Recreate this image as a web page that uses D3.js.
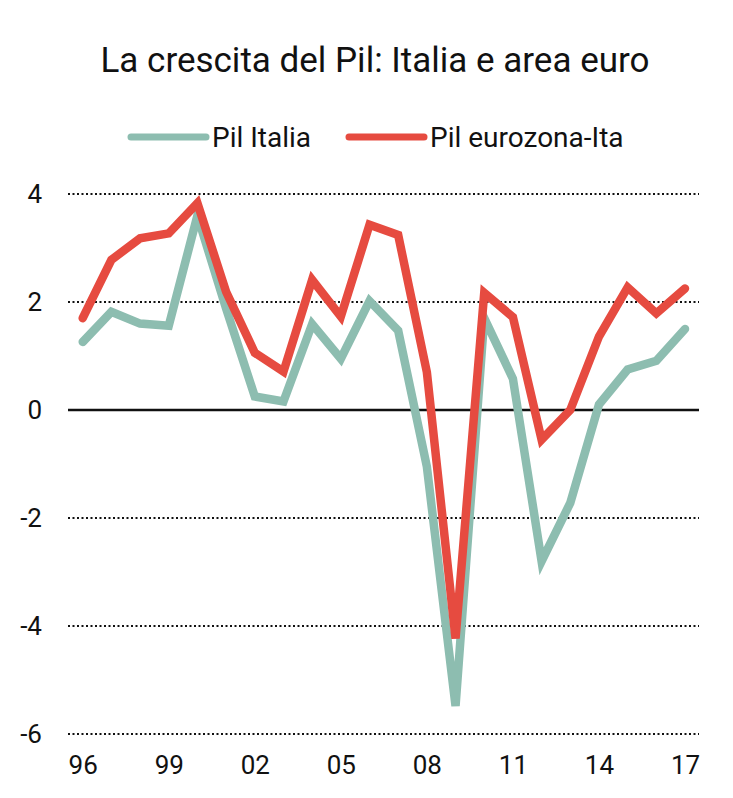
<!DOCTYPE html>
<html>
<head>
<meta charset="utf-8">
<script src="https://cdn.jsdelivr.net/npm/d3@7"></script>
<style>
  body { margin: 0; background: #fff; }
  text { font-family: Roboto, "Open Sans", sans-serif; fill: #111; }
</style>
</head>
<body>
<div class="chart"></div>
<script>
var years = [1996, 1997, 1998, 1999, 2000, 2001, 2002, 2003, 2004, 2005, 2006,
             2007, 2008, 2009, 2010, 2011, 2012, 2013, 2014, 2015, 2016, 2017];

var pilItalia = [1.26, 1.82, 1.60, 1.56, 3.60, 1.88, 0.25, 0.16, 1.59, 0.95, 2.02,
                 1.47, -1.05, -5.48, 1.70, 0.58, -2.80, -1.72, 0.10, 0.75, 0.91, 1.50];

var pilEurozona = [1.70, 2.78, 3.18, 3.27, 3.83, 2.19, 1.06, 0.71, 2.41, 1.73, 3.43,
                   3.24, 0.70, -4.23, 2.17, 1.72, -0.55, 0.00, 1.36, 2.27, 1.79, 2.25];

var yTicks = [4, 2, 0, -2, -4, -6];
var xTicks = [1996, 1999, 2002, 2005, 2008, 2011, 2014, 2017];

var series = [
    { name: "Pil Italia", values: pilItalia, color: "#8dbdb0" },
    { name: "Pil eurozona-Ita", values: pilEurozona, color: "#e64b40" }
];

var W = 733, H = 798;

var svg = d3.select(".chart")
    .append("svg")
    .attr("width", W)
    .attr("height", H);

// scales
var x = d3.scaleLinear()
    .domain([1996, 2017])
    .range([82.7, 685]);

var y = d3.scaleLinear()
    .domain([-6, 4])
    .range([734, 194]);

// title
svg.append("text")
    .attr("x", 375)
    .attr("y", 72)
    .attr("text-anchor", "middle")
    .style("font-size", "35px")
    .text("La crescita del Pil: Italia e area euro");

// legend
var legendPos = [{ x1: 131, x2: 206, tx: 212 }, { x1: 349, x2: 424, tx: 430 }];
series.forEach(function (s, i) {
    var p = legendPos[i];
    svg.append("line")
        .attr("x1", p.x1).attr("x2", p.x2)
        .attr("y1", 137).attr("y2", 137)
        .attr("stroke", s.color)
        .attr("stroke-width", 7)
        .attr("stroke-linecap", "round");
    svg.append("text")
        .attr("x", p.tx)
        .attr("y", 147)
        .style("font-size", "28px")
        .text(s.name);
});

// gridlines
svg.append("g")
    .selectAll("line")
    .data(yTicks)
    .enter()
    .append("line")
    .attr("x1", 68)
    .attr("x2", 699)
    .attr("y1", function (d) { return y(d); })
    .attr("y2", function (d) { return y(d); })
    .attr("stroke", "#111")
    .attr("stroke-width", function (d) { return d === 0 ? 2.5 : 2; })
    .attr("stroke-dasharray", function (d) { return d === 0 ? null : "2,2.5"; });

// Y axis labels (plain hyphen for negatives, as in the original)
var yAxis = svg.append("g")
    .attr("transform", "translate(42,0)")
    .call(d3.axisLeft(y).tickValues(yTicks).tickSize(0).tickPadding(0)
        .tickFormat(function (d) { return String(d); }));
yAxis.select(".domain").remove();
yAxis.selectAll("text")
    .attr("fill", "#111")
    .style("font-size", "26px")
    .style("font-family", "Roboto, sans-serif");

// X axis labels
var xAxis = svg.append("g")
    .attr("transform", "translate(0,756)")
    .call(d3.axisBottom(x).tickValues(xTicks).tickSize(0).tickPadding(0)
        .tickFormat(function (d) { return String(d).slice(2); }));
xAxis.select(".domain").remove();
xAxis.selectAll("text")
    .attr("fill", "#111")
    .style("font-size", "26px")
    .style("font-family", "Roboto, sans-serif");

// lines
var line = d3.line()
    .x(function (d, i) { return x(years[i]); })
    .y(function (d) { return y(d); });

svg.append("g")
    .selectAll("path")
    .data(series)
    .enter()
    .append("path")
    .attr("d", function (d) { return line(d.values); })
    .attr("fill", "none")
    .attr("stroke", function (d) { return d.color; })
    .attr("stroke-width", 8.5)
    .attr("stroke-linejoin", "miter")
    .attr("stroke-linecap", "round");
</script>
</body>
</html>
